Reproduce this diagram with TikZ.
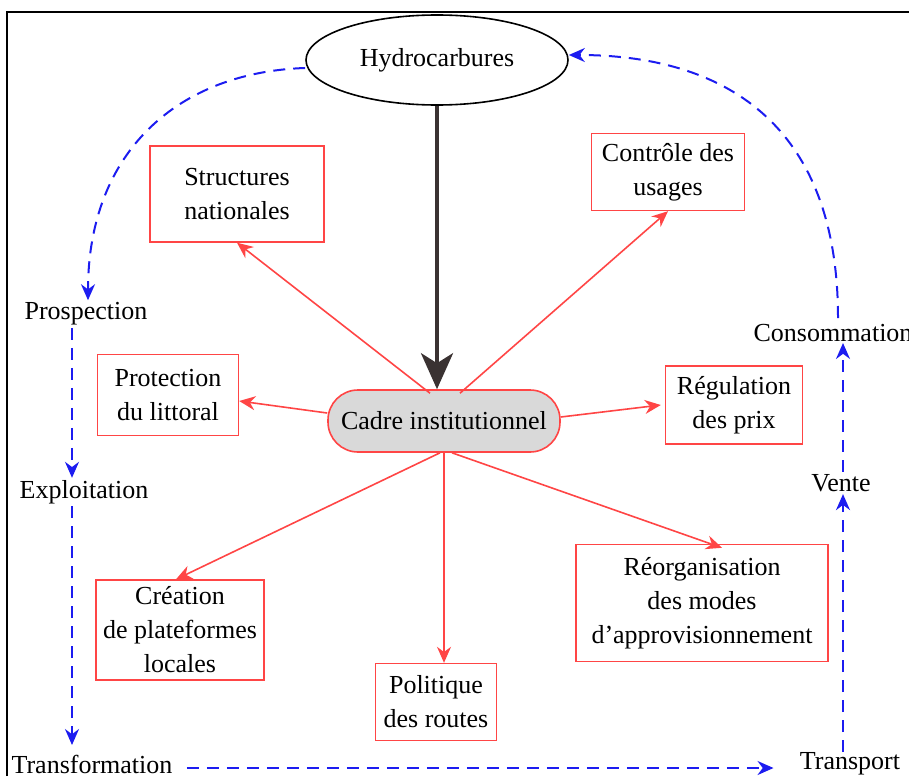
\documentclass[tikz,border=0pt]{standalone}
\usepackage{fontspec}
\setmainfont{Liberation Serif}
\usetikzlibrary{arrows.meta,shapes.geometric,calc}
\definecolor{myred}{HTML}{FF4545}
\definecolor{myblue}{HTML}{1C1CF0}
\definecolor{mydark}{HTML}{3A3232}
\definecolor{mygray}{HTML}{D9D9D9}
\begin{document}
\begin{tikzpicture}[x=0.5pt,y=-0.5pt, font=\fontsize{13}{17}\selectfont,
 box/.style={draw=myred, line width=0.7pt, align=center, inner sep=2pt},
 lbl/.style={inner sep=1pt},
 redarr/.style={myred, line width=0.8pt, -{Stealth[length=8pt,width=7pt]}},
 bluearr/.style={myblue, line width=1pt, dash pattern=on 6pt off 4pt, -{Stealth[length=8pt,width=7pt]}}]
\useasboundingbox (0,0) rectangle (909,776);
\draw[line width=1pt] (7,776) -- (7,12) -- (909,12);

% central nodes
\node[ellipse, draw, line width=0.8pt, minimum width=131pt, minimum height=45pt] (hydro) at (437,60) {Hydrocarbures};
\node[draw=myred, fill=mygray, line width=0.8pt, rounded corners=15pt, minimum width=116pt, minimum height=31pt] (cadre) at (444,421) {Cadre institutionnel};

% boxes
\node[box, minimum width=87pt, minimum height=48pt] (struct) at (237,194) {Structures\\nationales};
\node[box, minimum width=76.5pt, minimum height=38.5pt] (ctrl) at (668,172) {Contrôle des\\usages};
\node[box, minimum width=70.5pt, minimum height=40.5pt] (prot) at (168,395) {Protection\\du littoral};
\node[box, minimum width=68.5pt, minimum height=39pt] (reg) at (734,405) {Régulation\\des prix};
\node[box, minimum width=84pt, minimum height=50pt] (crea) at (180,630) {Création\\de plateformes\\locales};
\node[box, minimum width=60.5pt, minimum height=38.5pt] (pol) at (436,702) {Politique\\des routes};
\node[box, minimum width=126pt, minimum height=58.5pt] (reorg) at (702,603) {Réorganisation\\des modes\\d’approvisionnement};

% thick arrow
\draw[mydark, line width=2pt, -{Stealth[length=18pt,width=16pt,inset=5pt]}] (hydro.south) -- (hydro.south |- cadre.north);

% red arrows
\draw[redarr] ([xshift=-7pt,yshift=-2pt]cadre.north) -- (struct.south);
\draw[redarr] ([xshift=8pt,yshift=-2pt]cadre.north) -- (ctrl.south);
\draw[redarr] ([yshift=4pt]cadre.west) -- ([yshift=-3pt]prot.east);
\draw[redarr] ([yshift=2pt]cadre.east) -- ([xshift=-2pt]reg.west);
\draw[redarr] ([xshift=-2pt]cadre.south) -- ([xshift=-2pt]crea.north);
\draw[redarr] (cadre.south) -- (cadre.south |- pol.north);
\draw[redarr] ([xshift=4pt]cadre.south) -- ([xshift=10pt,yshift=-2pt]reorg.north);

% cycle labels
\node[lbl] (prosp) at (86,314) {Prospection};
\node[lbl] (expl) at (84,492) {Exploitation};
\node[lbl] (transf) at (92,764) {Transformation};
\node[lbl] (transp) at (850,764) {Transport};
\node[lbl] (vente) at (841,483) {Vente};
\node[lbl] (conso) at (833,333) {Consommation};

% blue cycle
\draw[bluearr] (hydro.west |- 0,68) .. controls (180,72) and (88,150) .. ([xshift=1pt]prosp.north);
\draw[bluearr] ([xshift=-7pt]prosp.south) -- ([xshift=-6pt]expl.north);
\draw[bluearr] ([xshift=-6pt]expl.south) -- (72,745);
\draw[bluearr] ([xshift=6pt,yshift=-2pt]transf.east) -- ([xshift=-12pt,yshift=-2pt]transp.west);
\draw[bluearr] (843,752) -- ([xshift=1pt]vente.south);
\draw[bluearr] ([xshift=1pt]vente.north) -- (843,343);
\draw[bluearr] (838,318) .. controls (838,120) and (720,55) .. (hydro.east |- 0,55);
\end{tikzpicture}
\end{document}
